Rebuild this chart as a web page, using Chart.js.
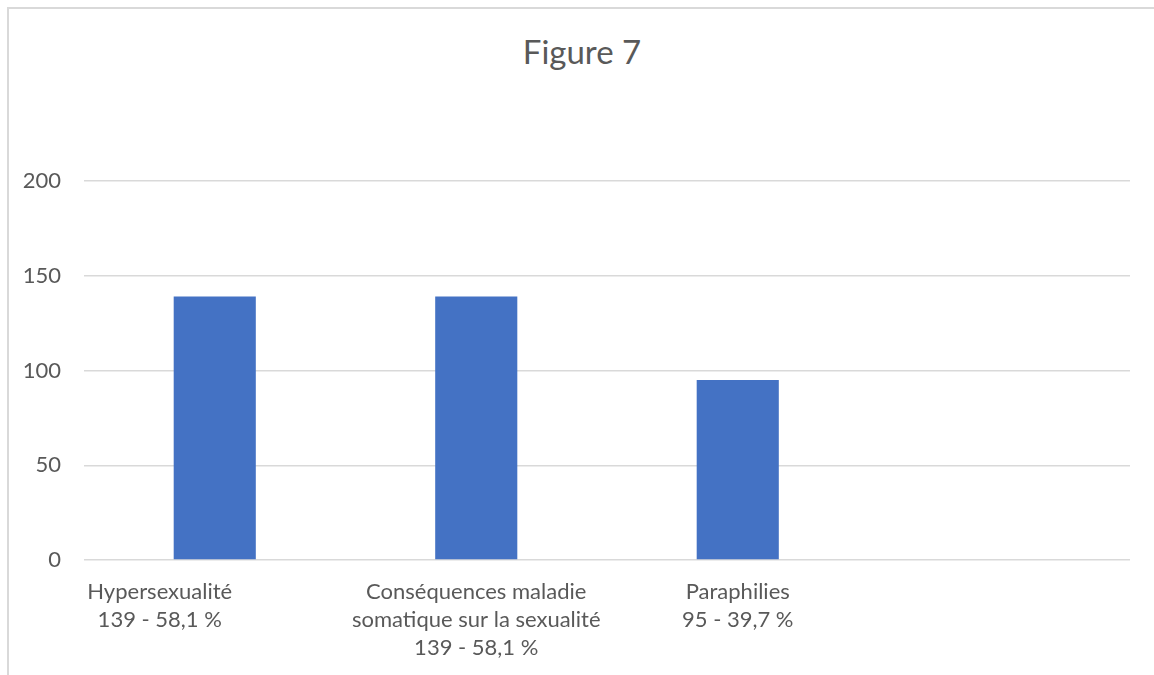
<!DOCTYPE html>
<html>
<head>
<meta charset="utf-8">
<script src="https://cdn.jsdelivr.net/npm/chart.js@4/dist/chart.umd.min.js"></script>
<style>
  html, body { margin: 0; padding: 0; background: #fff; overflow: hidden; }
  #frame {
    position: absolute; left: 7px; top: 7px; width: 1300px; height: 800px;
    border-left: 2px solid #d9d9d9; border-top: 2px solid #d9d9d9;
  }
  #title {
    position: absolute; left: 8px; top: 31px; width: 1148px;
    text-align: center; font: 33px/40px Lato, "Open Sans", sans-serif; color: #595959;
  }
  #wrap { position: absolute; left: 0; top: 0; width: 1154px; height: 675px; }
</style>
</head>
<body>
<div id="frame"></div>
<div id="title">Figure 7</div>
<div id="wrap"><canvas id="fig7"></canvas></div>
<script>
// Data
const categories = [
  ["Hypersexualité", "139 - 58,1 %"],
  ["Conséquences maladie", "somatique sur la sexualité", "139 - 58,1 %"],
  ["Paraphilies", "95 - 39,7 %"],
  [""]
];
const counts = [139, 139, 95, null];
const yTicks = [0, 50, 100, 150, 200];

const textColor = "#595959";
const labelFont = "Lato, 'Open Sans', sans-serif";
// Excel nudged the first category label to the left
const labelShift = [-55, 0, 0, 0];

// draws the wrapped category labels under each category
const categoryLabels = {
  id: "categoryLabels",
  afterDraw(chart) {
    const xs = chart.scales.x;
    const ctx = chart.ctx;
    ctx.save();
    ctx.font = "22px " + labelFont;
    ctx.fillStyle = textColor;
    ctx.textAlign = "center";
    ctx.textBaseline = "middle";
    categories.forEach((lines, i) => {
      const x = xs.getPixelForValue(i) + labelShift[i];
      lines.forEach((line, j) => {
        ctx.fillText(line, x, xs.top + 32 + j * 28);
      });
    });
    ctx.restore();
  }
};

const ctx = document.getElementById("fig7").getContext("2d");
new Chart(ctx, {
  type: "bar",
  data: {
    labels: categories.map(l => l.join(" ")),
    datasets: [{
      data: counts,
      backgroundColor: "#4472c4",
      categoryPercentage: 1,
      barPercentage: 0.314
    }]
  },
  options: {
    responsive: true,
    maintainAspectRatio: false,
    animation: false,
    layout: { padding: { left: 0, right: 24, top: 181, bottom: 0 } },
    plugins: {
      legend: { display: false },
      tooltip: { enabled: false },
      title: { display: false }
    },
    scales: {
      x: {
        grid: { display: false },
        border: { display: false },
        ticks: { display: false },
        afterFit: s => { s.height = 115; }
      },
      y: {
        min: yTicks[0],
        max: yTicks[yTicks.length - 1],
        afterBuildTicks: s => { s.ticks = yTicks.map(v => ({ value: v })); },
        afterFit: s => { s.width = 84; },
        border: { display: false },
        grid: { color: "#d9d9d9", lineWidth: 1.5, drawTicks: false },
        ticks: {
          color: textColor,
          padding: 23,
          font: { family: labelFont, size: 22 }
        }
      }
    }
  },
  plugins: [categoryLabels]
});
</script>
</body>
</html>
